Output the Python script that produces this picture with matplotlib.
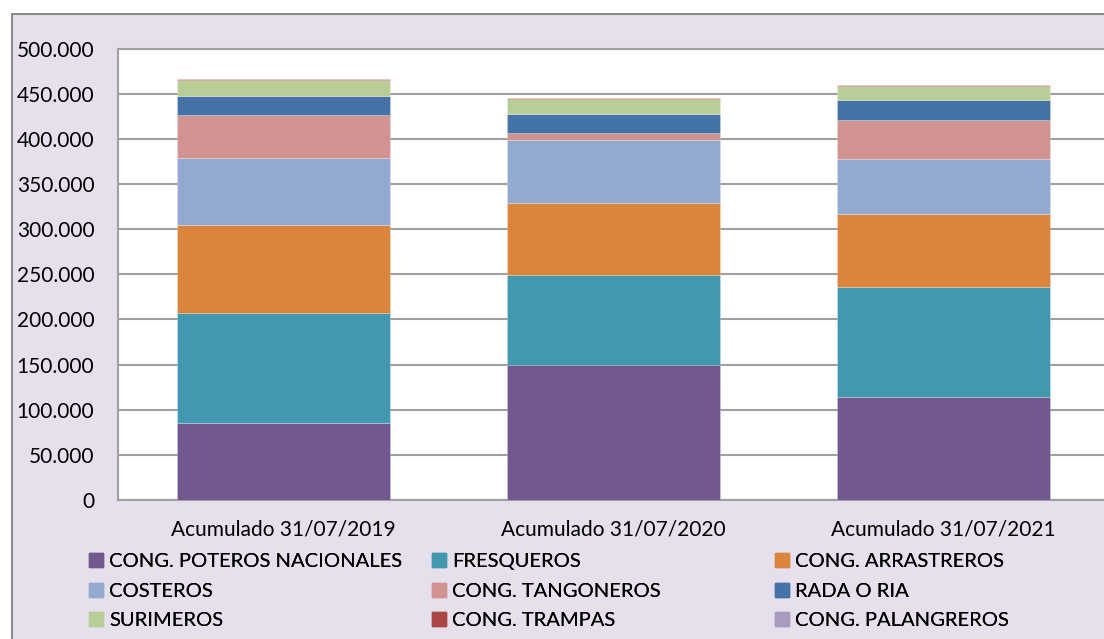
import matplotlib.pyplot as plt
import matplotlib.patches as mpatches
import matplotlib.ticker as mticker
import numpy as np

plt.rcParams['font.family'] = ['Lato', 'DejaVu Sans']

categorias = ['Acumulado 31/07/2019', 'Acumulado 31/07/2020', 'Acumulado 31/07/2021']

series = ['CONG. POTEROS NACIONALES', 'FRESQUEROS', 'CONG. ARRASTREROS',
          'COSTEROS', 'CONG. TANGONEROS', 'RADA O RIA',
          'SURIMEROS', 'CONG. TRAMPAS', 'CONG. PALANGREROS']

poteros = [85300, 149600, 114000]
fresqueros = [121700, 99700, 122000]
arrastreros = [97700, 79700, 80900]
costeros = [74300, 69800, 60900]
tangoneros = [47500, 7800, 43200]
rada = [21100, 21000, 22000]
surimeros = [17700, 16700, 15700]
trampas = [1200, 1100, 1100]
palangreros = [200, 200, 200]

valores = [poteros, fresqueros, arrastreros, costeros, tangoneros,
           rada, surimeros, trampas, palangreros]
colores = ['#71588F', '#4198AF', '#DB843D', '#93A9CF', '#D19392',
           '#4572A7', '#B9CD96', '#AA4643', '#A99BBD']

W, H = 1104, 639
fig = plt.figure(figsize=(W / 100, H / 100), dpi=100, facecolor='white')

# marco del grafico
marco = mpatches.Rectangle((12 / W, -0.05), 1.2, 1 - 14 / H + 0.05,
                           transform=fig.transFigure, facecolor='#E6E0EC',
                           edgecolor='#8C8C8C', linewidth=1.5, zorder=-10)
fig.patches.append(marco)

ax = fig.add_axes([118 / W, 1 - 500 / H, (1108.5 - 118) / W, (500 - 48.7) / H])
ax.set_facecolor('white')

x = np.arange(len(categorias))
base = np.zeros(len(categorias))
for nombre, vals, col in zip(series, valores, colores):
    ax.bar(x, vals, width=0.645, bottom=base, color=col, label=nombre,
           edgecolor='#FFFFFF50', linewidth=0.5, zorder=3)
    base += np.array(vals)

ax.set_xlim(-0.5, 2.5)
ax.set_ylim(0, 500000)
ax.yaxis.set_major_locator(mticker.MultipleLocator(50000))
ax.yaxis.set_major_formatter(mticker.FuncFormatter(
    lambda v, p: f'{int(v):,}'.replace(',', '.')))
ax.grid(axis='y', color='#A0A0A0', linewidth=1.5, zorder=1)
ax.set_xticks(x)
ax.set_xticklabels(categorias)
ax.tick_params(axis='both', length=0, labelsize=15, colors='black')
ax.tick_params(axis='y', pad=17)
ax.tick_params(axis='x', pad=14)
for s in ax.spines.values():
    s.set_color('#A0A0A0')
    s.set_linewidth(1.5)

# leyenda en tres columnas
handles = [mpatches.Patch(color=c) for c in colores]
col_x = [89, 432, 775]
for i, cx in enumerate(col_x):
    idx = [i, i + 3, i + 6]
    leg = fig.legend([handles[j] for j in idx], [series[j] for j in idx],
                     loc='upper left', bbox_to_anchor=(cx / W, 1 - 553 / H),
                     frameon=False, fontsize=14.5, borderpad=0, borderaxespad=0,
                     handlelength=0.7, handleheight=0.7, handletextpad=0.3,
                     labelspacing=0.62)
    fig.add_artist(leg)

fig.savefig('out.png', dpi=100, facecolor=fig.get_facecolor())
